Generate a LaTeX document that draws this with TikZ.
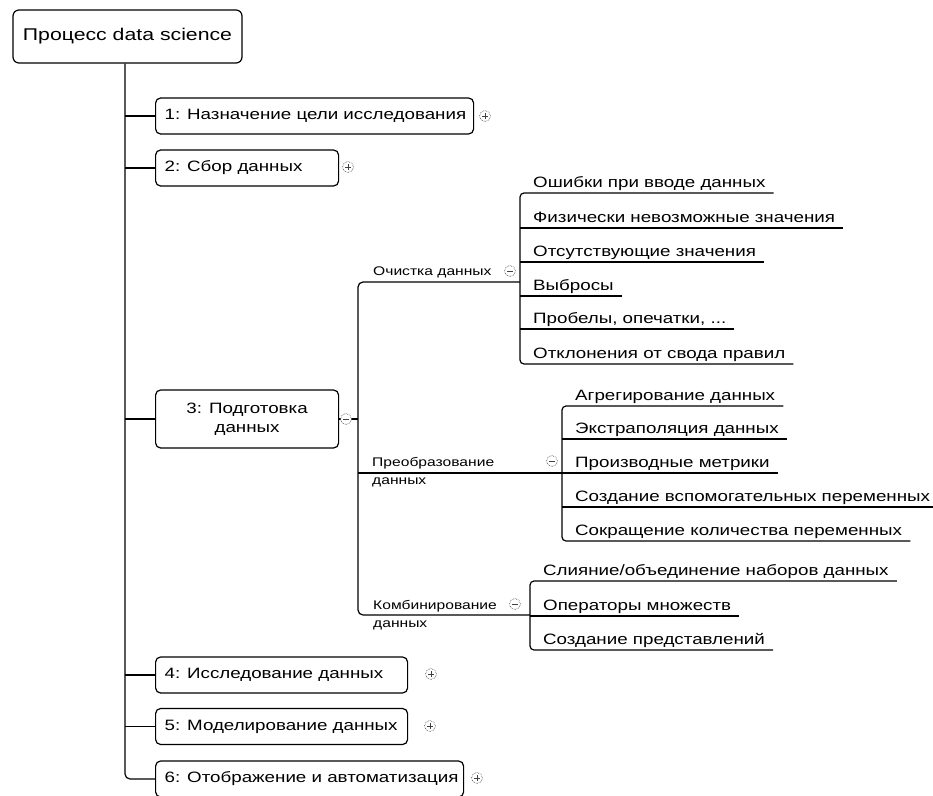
\documentclass[tikz,border=0pt]{standalone}
\usepackage{fontspec}
\setmainfont{Liberation Sans}[FakeStretch=1.25]
\begin{document}
\begin{tikzpicture}[x=1pt,y=-1pt,
  conn/.style={line width=1.2pt, black},
  topbox/.style={draw, line width=1.2pt, rounded corners=5pt, minimum height=36pt, inner xsep=9pt, inner ysep=0pt, font=\fontsize{15}{19}\selectfont},
  leaf/.style={inner xsep=0pt, inner ysep=5pt, text depth=0pt, anchor=south west, font=\fontsize{15}{18}\selectfont, execute at begin node=\hspace*{13pt}, execute at end node=\hspace*{8pt}},
  midlabel/.style={inner sep=0pt, anchor=base west, align=left, font=\fontsize{12.5}{18}\selectfont},
  icon/.style={circle, draw=black!75, densely dotted, line width=0.6pt, minimum size=11pt, inner sep=0pt, fill=white},
  plusicon/.style={icon, path picture={\draw[solid, line width=0.7pt] ([xshift=2.5pt]path picture bounding box.west) -- ([xshift=-2.5pt]path picture bounding box.east) ([yshift=-2.5pt]path picture bounding box.north) -- ([yshift=2.5pt]path picture bounding box.south);}},
  minusicon/.style={icon, path picture={\draw[solid, line width=0.7pt] ([xshift=2.5pt]path picture bounding box.west) -- ([xshift=-2.5pt]path picture bounding box.east);}},
]
\useasboundingbox (0,0) rectangle (933,795);

% root
\node[draw, line width=1.2pt, rounded corners=6pt, minimum width=229pt, minimum height=53pt, inner sep=0pt, font=\fontsize{17}{20}\selectfont] (root) at (127.5,36.5) {Процесс data science};

% top-level boxes
\node[topbox, anchor=west] (b1) at (155,116) {\makebox[300pt][l]{1: Назначение цели исследования}};
\node[topbox, anchor=west] (b2) at (155,168) {\makebox[165pt][l]{2: Сбор данных}};
\node[topbox, anchor=west, minimum height=58pt, minimum width=183pt, align=center] (b3) at (155,419) {3: Подготовка\\данных};
\node[topbox, anchor=west] (b4) at (155,675) {\makebox[234pt][l]{4: Исследование данных}};
\node[topbox, anchor=west] (b5) at (155,726.5) {\makebox[234pt][l]{5: Моделирование данных}};
\node[topbox, anchor=west] (b6) at (155,779) {\makebox[290pt][l]{6: Отображение и автоматизация}};

\coordinate (tx) at (125,0);
\draw[conn, rounded corners=5pt] (root.south -| tx) -- (b6.west -| tx) -- (b6.west);
\foreach \b in {b1,b2,b3,b4,b5} \draw[conn] (\b.west -| tx) -- (\b.west);

% second level
\coordinate (vx) at (358,0);
\coordinate (oj) at (520,282);
\coordinate (pj) at (562,473);
\coordinate (kj) at (530,615);
\draw[conn] (b3.east) -- (b3.east -| vx);
\draw[conn, rounded corners=5pt] (oj) -- (oj -| vx) -- (kj -| vx) -- (kj);
\draw[conn] (pj -| vx) -- (pj);

\node[midlabel] (ochistka) at (373,275) {Очистка данных};
\node[midlabel] (preob) at (372,484) {Преобразование\\данных};
\node[midlabel] (komb) at (373,627) {Комбинирование\\данных};

% leaves: cleaning
\node[leaf] (o1) at (520,193) {Ошибки при вводе данных};
\node[leaf] (o2) at (520,228) {Физически невозможные значения};
\node[leaf] (o3) at (520,262) {Отсутствующие значения};
\node[leaf] (o4) at (520,296) {Выбросы};
\node[leaf] (o5) at (520,329) {Пробелы, опечатки, ...};
\node[leaf] (o6) at (520,364) {Отклонения от свода правил};
\draw[conn, rounded corners=4pt] (o1.south east) -- (o1.south west) -- (o6.south west) -- (o6.south east);
\foreach \c in {o2,o3,o4,o5} \draw[conn] (\c.south west) -- (\c.south east);

% leaves: transformation
\node[leaf] (p1) at (562,406) {Агрегирование данных};
\node[leaf] (p2) at (562,439) {Экстраполяция данных};
\node[leaf] (p3) at (562,473) {Производные метрики};
\node[leaf] (p4) at (562,507) {Создание вспомогательных переменных};
\node[leaf] (p5) at (562,541) {Сокращение количества переменных};
\draw[conn, rounded corners=4pt] (p1.south east) -- (p1.south west) -- (p5.south west) -- (p5.south east);
\foreach \c in {p2,p3,p4} \draw[conn] (\c.south west) -- (\c.south east);

% leaves: combining
\node[leaf] (k1) at (530,581) {Слияние/объединение наборов данных};
\node[leaf] (k2) at (530,616) {Операторы множеств};
\node[leaf] (k3) at (530,650) {Создание представлений};
\draw[conn, rounded corners=4pt] (k1.south east) -- (k1.south west) -- (k3.south west) -- (k3.south east);
\draw[conn] (k2.south west) -- (k2.south east);

% expand / collapse icons
\node[plusicon] (i1) at (485,116) {};
\node[plusicon] (i2) at (348,167) {};
\node[minusicon] (i3) at (346,419) {};
\node[plusicon] (i4) at (431,674) {};
\node[plusicon] (i5) at (430,726) {};
\node[plusicon] (i6) at (477,778) {};
\node[minusicon] (io) at (510,271) {};
\node[minusicon] (ip) at (552,461) {};
\node[minusicon] (ik) at (515,604) {};
\end{tikzpicture}
\end{document}
